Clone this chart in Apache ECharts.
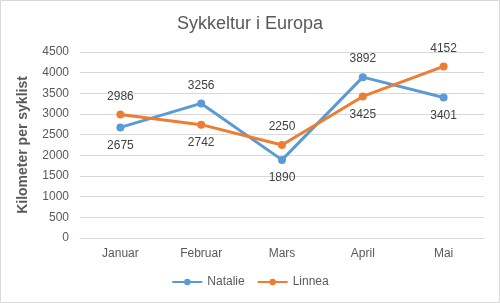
<!DOCTYPE html>
<html>
<head>
<meta charset="utf-8">
<script src="https://cdn.jsdelivr.net/npm/echarts@6/dist/echarts.min.js"></script>
<style>
  html, body { margin: 0; padding: 0; background: #fff; }
  #chart { width: 500px; height: 303px; }
</style>
</head>
<body>
<div id="chart"></div>
<script>
var months = ['Januar', 'Februar', 'Mars', 'April', 'Mai'];
var natalie = [2675, 3256, 1890, 3892, 3401];
var linnea = [2986, 2742, 2250, 3425, 4152];
// label sides
var nataliePos = ['bottom', 'top', 'bottom', 'top', 'bottom'];
var linneaPos = ['top', 'bottom', 'top', 'bottom', 'top'];

var font = 'Liberation Sans';
var blue = '#5B9BD5';
var orange = '#ED7D31';

function withLabels(values, sides) {
    return values.map(function (v, i) {
        return { value: v, label: { position: sides[i] } };
    });
}

function lineSeries(name, color, values, sides) {
    return {
        name: name,
        type: 'line',
        symbol: 'circle',
        symbolSize: 8,
        lineStyle: { width: 3, color: color },
        itemStyle: { color: color },
        label: {
            show: true,
            distance: 8,
            color: '#404040',
            fontFamily: font,
            fontSize: 12
        },
        data: withLabels(values, sides)
    };
}

var chart = echarts.init(document.getElementById('chart'));
chart.setOption({
    animation: false,
    title: {
        text: 'Sykkeltur i Europa',
        left: 'center',
        top: 10,
        textStyle: { color: '#595959', fontFamily: font, fontSize: 18, fontWeight: 'normal' }
    },
    legend: {
        bottom: 10,
        left: 'center',
        itemWidth: 30,
        itemHeight: 8,
        itemGap: 12,
        textStyle: { color: '#595959', fontFamily: font, fontSize: 12 },
        data: ['Natalie', 'Linnea']
    },
    grid: { left: 80, right: 16, top: 52, bottom: 65 },
    xAxis: {
        type: 'category',
        data: months,
        axisLine: { lineStyle: { color: '#D9D9D9', width: 1 } },
        axisTick: { show: false },
        axisLabel: { color: '#595959', fontFamily: font, fontSize: 12, margin: 10 }
    },
    yAxis: {
        type: 'value',
        min: 0,
        max: 4500,
        interval: 500,
        name: 'Kilometer per syklist',
        nameLocation: 'middle',
        nameGap: 50,
        nameTextStyle: { color: '#595959', fontFamily: font, fontSize: 14, fontWeight: 'bold' },
        axisLine: { show: false },
        axisTick: { show: false },
        axisLabel: {
            color: '#595959', fontFamily: font, fontSize: 12, margin: 11,
            formatter: function (v) { return String(v); }
        },
        splitLine: { lineStyle: { color: '#D9D9D9', width: 1 } }
    },
    series: [
        lineSeries('Natalie', blue, natalie, nataliePos),
        lineSeries('Linnea', orange, linnea, linneaPos)
    ],
    graphic: [{
        type: 'rect',
        shape: { x: 0.5, y: 0.5, width: 499, height: 302 },
        style: { fill: 'none', stroke: '#D9D9D9', lineWidth: 1 },
        silent: true
    }]
});
</script>
</body>
</html>
